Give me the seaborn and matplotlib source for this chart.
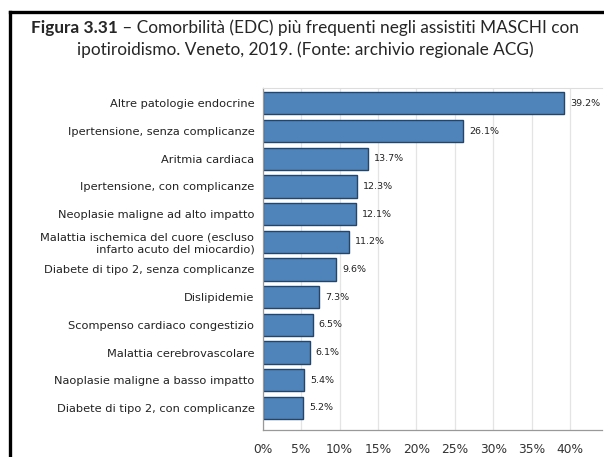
import matplotlib
matplotlib.use("Agg")
import matplotlib.pyplot as plt
import seaborn as sns
import pandas as pd
from matplotlib.lines import Line2D

categories = [
    "Altre patologie endocrine",
    "Ipertensione, senza complicanze",
    "Aritmia cardiaca",
    "Ipertensione, con complicanze",
    "Neoplasie maligne ad alto impatto",
    "Malattia ischemica del cuore (escluso\ninfarto acuto del miocardio)",
    "Diabete di tipo 2, senza complicanze",
    "Dislipidemie",
    "Scompenso cardiaco congestizio",
    "Malattia cerebrovascolare",
    "Naoplasie maligne a basso impatto",
    "Diabete di tipo 2, con complicanze",
]
values = [39.2, 26.1, 13.7, 12.3, 12.1, 11.2, 9.6, 7.3, 6.5, 6.1, 5.4, 5.2]
x_ticks = [0, 5, 10, 15, 20, 25, 30, 35, 40]

df = pd.DataFrame({"categoria": categories, "valore": values})

sns.set_style("white")
plt.rcParams["font.family"] = ["DejaVu Sans"]

fig = plt.figure(figsize=(6.04, 4.57), dpi=100)
ax = fig.add_axes([0.435, 0.059, 0.562, 0.748])

sns.barplot(data=df, x="valore", y="categoria", orient="h", color="#4f84bb",
            edgecolor="#23446b", linewidth=1.0, width=0.8, saturation=1, ax=ax)

for i, v in enumerate(values):
    ax.text(v + 0.8, i, f"{v:.1f}%", va="center", ha="left", fontsize=6.8, color="#222222")

ax.set_xlim(0, 44.2)
ax.set_ylim(11.8, -0.55)
ax.set_xticks(x_ticks)
ax.set_xticklabels([f"{t}%" for t in x_ticks], fontsize=8.8, color="#333333")
ax.tick_params(axis="y", labelsize=8.2, colors="#888888", labelcolor="#222222", length=4, width=0.8, pad=2)
ax.tick_params(axis="x", colors="#888888", labelcolor="#333333", length=4, width=0.8, pad=5)
ax.set_xlabel("")
ax.set_ylabel("")
ax.grid(axis="x", color="#e4e4e4", linewidth=0.9)
ax.set_axisbelow(True)
for s in ["left", "bottom"]:
    ax.spines[s].set_color("#999999")
    ax.spines[s].set_linewidth(0.9)
ax.spines["top"].set_color("#dddddd")
ax.spines["right"].set_visible(False)

# black frame (left and top edge)
fig.add_artist(Line2D([0.0165, 0.0165], [0, 1 - 11.5 / 457], transform=fig.transFigure,
                      color="black", linewidth=2.4, solid_capstyle="projecting"))
fig.add_artist(Line2D([0.0165, 1.0], [1 - 11.5 / 457, 1 - 11.5 / 457], transform=fig.transFigure,
                      color="black", linewidth=2.4, solid_capstyle="projecting"))

# title: bold part + regular part, centred together
title_font = ["Lato", "DejaVu Sans"]
bold_part = "Figura 3.31"
rest_part = " \u2013 Comorbilità (EDC) più frequenti negli assistiti MASCHI con"
line2 = "ipotiroidismo. Veneto, 2019. (Fonte: archivio regionale ACG)"
fs = 12.4
y1 = 1 - 28 / 457
fig.canvas.draw()
r = fig.canvas.get_renderer()
tb = fig.text(0, y1, bold_part, fontsize=fs, fontweight="bold", family=title_font, va="center")
tr = fig.text(0, y1, rest_part, fontsize=fs, family=title_font, va="center")
wb = tb.get_window_extent(r).width
wr = tr.get_window_extent(r).width
x0 = (0.505 * fig.bbox.width - (wb + wr) / 2) / fig.bbox.width
tb.set_x(x0)
tr.set_x(x0 + wb / fig.bbox.width)
fig.text(0.505, 1 - 50 / 457, line2, fontsize=fs, family=title_font, ha="center", va="center")

fig.savefig("out.png", dpi=100)
